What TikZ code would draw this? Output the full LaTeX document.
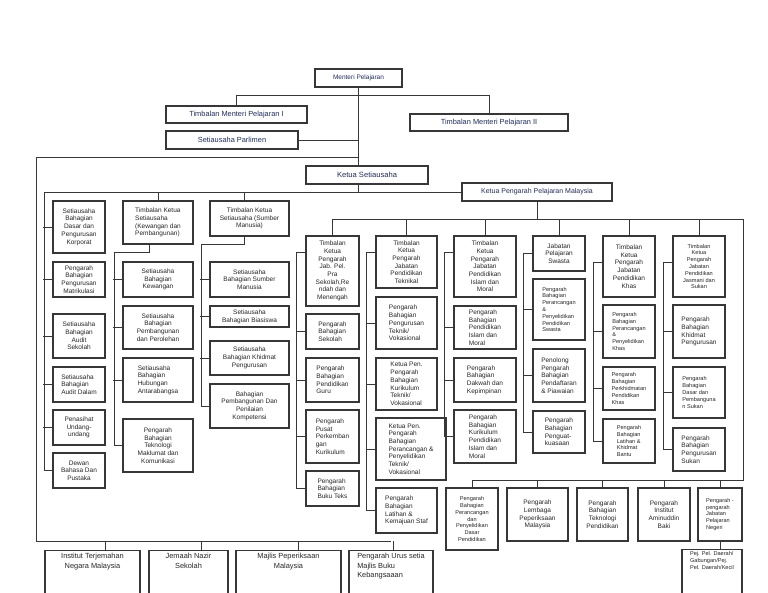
\documentclass[tikz,border=0pt]{standalone}
\usepackage{fontspec}
\setmainfont{Liberation Sans}
\usetikzlibrary{positioning,calc}
\definecolor{headtext}{RGB}{30,45,95}
\definecolor{boxline}{RGB}{55,55,55}

\begin{document}
\begin{tikzpicture}[x=1pt, y=-1pt,
    orgbox/.style={draw=boxline, line width=1.1pt, fill=white, text=black!85, inner sep=2pt,
      align=center, font=\fontsize{6.5}{7.7}\selectfont},
    orgboxl/.style={orgbox, align=left},
    smalltext/.style={font=\fontsize{5.6}{6.8}\selectfont},
    headbox/.style={orgbox, text=headtext, font=\fontsize{7.4}{9}\selectfont},
    lowbox/.style={orgbox, anchor=north, inner ysep=3pt, text depth=40pt, font=\fontsize{7.4}{9.5}\selectfont},
    dims/.style 2 args={minimum width=#1, minimum height=#2},
    wire/.style={draw=boxline, line width=0.9pt}]
  \useasboundingbox (0,0) rectangle (768,593);
  \fill[white] (0,0) rectangle (768,593);
  \clip (0,0) rectangle (768,593);

  % ministry
  \node[headbox, dims={87}{18}, font=\fontsize{6.5}{8}\selectfont] (mp) at (358.5,78) {Menteri Pelajaran};
  \node[headbox, dims={141}{17}] (tm1) at (236.5,114.5) {Timbalan Menteri Pelajaran I};
  \node[headbox, dims={158}{17}] (tm2) at (489,122.5) {Timbalan Menteri Pelajaran II};
  \node[headbox, dims={132}{18}] (sp) at (232,140) {Setiausaha Parlimen};
  \node[headbox, dims={122}{18}, font=\fontsize{7.6}{9}\selectfont] (ks) at (367,175) {Ketua Setiausaha};
  \node[headbox, dims={150}{18}, font=\fontsize{7}{9}\selectfont] (kp) at (537,192) {Ketua Pengarah Pelajaran Malaysia};

  % left column
  \node[orgbox, dims={52}{52}] (a1) at (79,227) {Setiausaha\\Bahagian\\Dasar dan\\Pengurusan\\Korporat};
  \node[orgbox, dims={52}{35}] (a2) at (79,279.5) {Pengarah\\Bahagian\\Pengurusan\\Matrikulasi};
  \node[orgbox, dims={52}{44}] (a3) at (79,336) {Setiausaha\\Bahagian\\Audit\\Sekolah};
  \node[orgboxl, dims={52}{35}] (a4) at (79,384.5) {Setiausaha\\Bahagian\\Audit Dalam};
  \node[orgbox, dims={52}{35}] (a5) at (79,427.5) {Penasihat\\Undang-\\undang};
  \node[orgbox, dims={52}{35}] (a6) at (79,470.5) {Dewan\\Bahasa Dan\\Pustaka};

  % kewangan dan pembangunan
  \node[orgboxl, dims={70}{43}] (b0) at (158,222.5) {Timbalan Ketua\\Setiausaha\\(Kewangan dan\\Pembangunan)};
  \node[orgbox, dims={70}{35}] (b1) at (158,279.5) {Setiausaha\\Bahagian\\Kewangan};
  \node[orgbox, dims={70}{43}] (b2) at (158,327.5) {Setiausaha\\Bahagian\\Pembangunan\\dan Perolehan};
  \node[orgboxl, dims={70}{44}] (b3) at (158,380) {Setiausaha\\Bahagian\\Hubungan\\Antarabangsa};
  \node[orgbox, dims={70}{53}] (b4) at (158,445.5) {Pengarah\\Bahagian\\Teknologi\\Maklumat dan\\Komunikasi};

  % sumber manusia
  \node[orgbox, dims={79}{35}] (c0) at (249.5,218.5) {Timbalan Ketua\\Setiausaha (Sumber\\Manusia)};
  \node[orgbox, dims={79}{35}] (c1) at (249.5,279.5) {Setiausaha\\Bahagian Sumber\\Manusia};
  \node[orgbox, dims={79}{21}] (c2) at (249.5,316.5) {Setiausaha\\Bahagian Biasiswa};
  \node[orgbox, dims={79}{34}] (c3) at (249.5,358) {Setiausaha\\Bahagian Khidmat\\Pengurusan};
  \node[orgbox, dims={79}{44}] (c4) at (249.5,406) {Bahagian\\Pembangunan Dan\\Penilaian\\Kompetensi};

  % jabatan under ketua pengarah
  \node[orgbox, dims={53}{70}] (pa0) at (332.5,271) {Timbalan\\Ketua\\Pengarah\\Jab. Pel.\\Pra\\Sekolah,Re\\ndah dan\\Menengah};
  \node[orgboxl, dims={53}{35}] (pa1) at (332.5,331.5) {Pengarah\\Bahagian\\Sekolah};
  \node[orgboxl, dims={53}{44}] (pa2) at (332.5,380) {Pengarah\\Bahagian\\Pendidikan\\Guru};
  \node[orgboxl, dims={53}{53}] (pa3) at (332.5,436.5) {Pengarah\\Pusat\\Perkemban\\gan\\Kurikulum};
  \node[orgboxl, dims={53}{35}] (pa4) at (332.5,488.5) {Pengarah\\Bahagian\\Buku Teks};

  \node[orgbox, dims={61}{52}] (pb0) at (406.5,262) {Timbalan\\Ketua\\Pengarah\\Jabatan\\Pendidikan\\Teknikal};
  \node[orgboxl, dims={61}{52}] (pb1) at (406.5,323) {Pengarah\\Bahagian\\Pengurusan\\Teknik/\\Vokasional};
  \node[orgboxl, dims={61}{52}] (pb2) at (406.5,384) {Ketua Pen.\\Pengarah\\Bahagian\\Kurikulum\\Teknik/\\Vokasional};
  \node[orgboxl, dims={70}{62}] (pb3) at (411,449) {Ketua Pen.\\Pengarah\\Bahagian\\Perancangan \&\\Penyelidikan\\Teknik/\\Vokasional};
  \node[orgboxl, dims={61}{45}] (pb4) at (406.5,510.5) {Pengarah\\Bahagian\\Latihan \&\\Kemajuan Staf};

  \node[orgbox, dims={62}{61}] (pc0) at (485,266.5) {Timbalan\\Ketua\\Pengarah\\Jabatan\\Pendidikan\\Islam dan\\Moral};
  \node[orgboxl, dims={62}{43}] (pc1) at (485,327.5) {Pengarah\\Bahagian\\Pendidikan\\Islam dan\\Moral};
  \node[orgboxl, dims={62}{44}] (pc2) at (485,380) {Pengarah\\Bahagian\\Dakwah dan\\Kepimpinan};
  \node[orgboxl, dims={62}{53}] (pc3) at (485,436.5) {Pengarah\\Bahagian\\Kurikulum\\Pendidikan\\Islam dan\\Moral};

  \node[orgbox, dims={52}{35}] (pd0) at (559,253.5) {Jabatan\\Pelajaran\\Swasta};
  \node[orgboxl, smalltext, dims={52}{61}] (pd1) at (559,309.5) {Pengarah\\Bahagian\\Perancangan\\\&\\Penyelidikan\\Pendidikan\\Swasta};
  \node[orgboxl, dims={52}{53}] (pd2) at (559,375.5) {Penolong\\Pengarah\\Bahagian\\Pendaftaran\\\& Piawaian};
  \node[orgboxl, dims={52}{42}] (pd3) at (559,432) {Pengarah\\Bahagian\\Penguat-\\kuasaan};

  \node[orgbox, dims={52}{61}] (pe0) at (629,266.5) {Timbalan\\Ketua\\Pengarah\\Jabatan\\Pendidikan\\Khas};
  \node[orgboxl, smalltext, dims={52}{53}] (pe1) at (629,331.5) {Pengarah\\Bahagian\\Perancangan\\\&\\Penyelidikan\\Khas};
  \node[orgboxl, smalltext, dims={52}{43}] (pe2) at (629,388.5) {Pengarah\\Bahagian\\Perkhidmatan\\Pendidikan\\Khas};
  \node[orgboxl, smalltext, dims={52}{44}] (pe3) at (629,441) {Pengarah\\Bahagian\\Latihan \&\\Khidmat\\Bantu};

  \node[orgbox, smalltext, dims={52}{61}] (pf0) at (699,266.5) {Timbalan\\Ketua\\Pengarah\\Jabatan\\Pendidikan\\Jasmani dan\\Sukan};
  \node[orgboxl, dims={52}{53}] (pf1) at (699,331.5) {Pengarah\\Bahagian\\Khidmat\\Pengurusan};
  \node[orgboxl, smalltext, dims={52}{51}] (pf2) at (699,392.5) {Pengarah\\Bahagian\\Dasar dan\\Pembanguna\\n Sukan};
  \node[orgboxl, dims={52}{43}] (pf3) at (699,449.5) {Pengarah\\Bahagian\\Pengurusan\\Sukan};

  % bottom row right
  \node[orgbox, smalltext, dims={52}{62}] (pg1) at (472,519) {Pengarah\\Bahagian\\Perancangan\\dan\\Penyelidikan\\Dasar\\Pendidikan};
  \node[orgbox, dims={61}{53}] (pg2) at (537.5,514.5) {Pengarah\\Lembaga\\Peperiksaan\\Malaysia};
  \node[orgbox, dims={51}{53}] (pg3) at (602.5,514.5) {Pengarah\\Bahagian\\Teknologi\\Pendidikan};
  \node[orgbox, dims={52}{53}] (pg4) at (664,514.5) {Pengarah\\Institut\\Aminuddin\\Baki};
  \node[orgboxl, smalltext, dims={44}{53}] (pg5) at (720,514.5) {Pengarah -\\pengarah\\Jabatan\\Pelajaran\\Negeri};
  \node[lowbox, orgboxl, smalltext, anchor=north, minimum width=60, text depth=40pt] (pg6) at (712,549) {Pej. Pel. Daerah/\\Gabungan/Pej.\\Pel. Daerah/Kecil};

  % bottom row left
  \node[lowbox, minimum width=95] (h1) at (92.5,550) {Institut Terjemahan\\Negara Malaysia};
  \node[lowbox, minimum width=79] (h2) at (188.5,550) {Jemaah Nazir\\Sekolah};
  \node[lowbox, minimum width=105] (h3) at (288.5,550) {Majlis Peperiksaan\\Malaysia};
  \node[lowbox, align=left, minimum width=84] (h4) at (391,550) {Pengarah Urus setia\\Majlis Buku\\Kebangsaaan};

  % connectors at the top
  \coordinate (ll) at (36,541);
  \coordinate (lt) at (44,192);
  \coordinate (rt) at (743,219);
  \coordinate (rb) at (743,480);
  \draw[wire] (mp.south) -- (mp.south |- ks.north);
  \draw[wire] (tm1.north) -- ++(0,-10) -| (tm2.north);
  \draw[wire] (sp.east) -- (sp.east -| mp.south);
  \draw[wire] (mp.south |- 0,157) -| (ll) -- (ll -| h4.north);
  \foreach \n/\s in {h1/12.5,h2/12.5,h3/9.5,h4/2}
    \draw[wire] ([xshift=\s pt]\n.north) -- ([xshift=\s pt]\n.north |- ll);
  \draw[wire] (mp.south |- ks.south) -- (mp.south |- kp.west);

  % ketua setiausaha side
  \draw[wire] (kp.west) -- (lt) |- (a6.west);
  \foreach \n in {a1,a2,a3,a4,a5}
    \draw[wire] (\n.west) -- ++(-9,0);
  \draw[wire] (b0.north) -- (b0.north |- lt);
  \draw[wire] ([xshift=-5.5pt]c0.north) -- ([xshift=-5.5pt]c0.north |- lt);
  \draw[wire] ([xshift=-9pt]b0.south) -- ++(0,8) -- ++(-35,0) |- (b4.west);
  \draw[wire] ([xshift=-5.5pt]c0.south) -- ++(0,8) -- ++(-43,0) |- (c4.west);
  \foreach \n in {b1,b2,b3,c1,c2,c3}
    \draw[wire] (\n.west) -- ++(-9,0);

  % ketua pengarah side
  \draw[wire] (kp.south) -- (kp.south |- rt);
  \draw[wire] (pa0.north |- rt) -- (rt) -- (rb) -- (rb -| pg1.north);
  \foreach \n in {pa0,pb0,pc0,pd0,pe0,pf0}
    \draw[wire] (\n.north) -- (\n.north |- rt);
  \foreach \n in {pg1,pg2,pg3,pg4,pg5}
    \draw[wire] (\n.north) -- (\n.north |- rb);
  \draw[wire] (pg5.south) -- (pg5.south |- pg6.north);
  \foreach \h/\s/\last in {pa0/17/pa4,pb0/17/pb4,pc0/17/pc3,pd0/18/pd3,pe0/27/pe3,pf0/27/pf3}
    \draw[wire] ([yshift=-\s pt]\h.north west) -- ++(-9,0) |- (\last.west);
  \foreach \n in {pa1,pa2,pa3,pb1,pb2,pb3,pc1,pc2,pd1,pd2,pe1,pe2,pf1,pf2}
    \draw[wire] (\n.west) -- ++(-9,0);
\end{tikzpicture}
\end{document}
